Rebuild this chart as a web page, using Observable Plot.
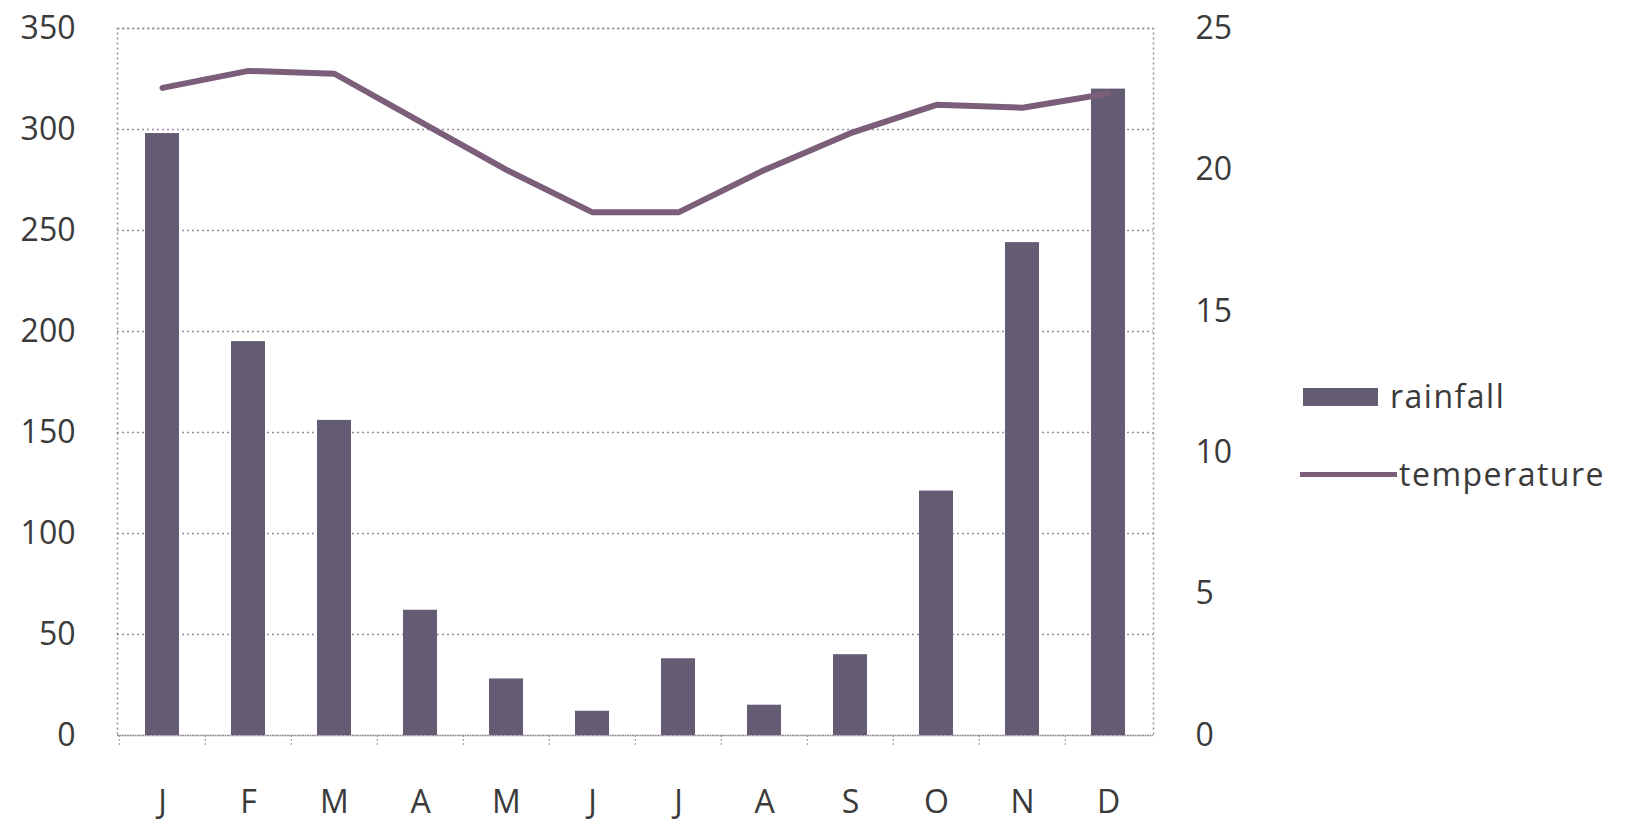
<!DOCTYPE html>
<html><head><meta charset="utf-8">
<script src="https://cdn.jsdelivr.net/npm/d3@7"></script>
<script src="https://cdn.jsdelivr.net/npm/@observablehq/plot@0.6"></script>
<style>
body{margin:0;background:#fff;}
#wrap{position:relative;width:1631px;height:822px;font-family:"Open Sans",sans-serif;color:#3a3a3a;}
.leg{position:absolute;font-size:32px;letter-spacing:1.5px;line-height:40px;white-space:nowrap;}
.sw{position:absolute;}
</style></head><body><div id="wrap"></div>
<script>
const months = ["Jan","Feb","Mar","Apr","May","Jun","Jul","Aug","Sep","Oct","Nov","Dec"];
const monthLabels = ["J","F","M","A","M","J","J","A","S","O","N","D"];
const rainfall = [298,195,156,62,28,12,38,15,40,121,244,320];
const temperature = [22.9,23.5,23.4,21.7,20.0,18.5,18.5,20.0,21.3,22.3,22.2,22.7];
const rainTicks = [0,50,100,150,200,250,300,350];
const tempTicks = [0,5,10,15,20,25];
const rainMax = 350, tempMax = 25;
const k = rainMax / tempMax;

const data = months.map((m, i) => ({month: m, rain: rainfall[i], temp: temperature[i] * k}));
const labelOf = Object.fromEntries(months.map((m, i) => [m, monthLabels[i]]));

const barColor = "#645c72";
const lineColor = "#7a5e7a";
const gridColor = "#9a8a9a";
const textColor = "#3a3a3a";

const chart = Plot.plot({
  width: 1631,
  height: 822,
  marginLeft: 117,
  marginRight: 478,
  marginTop: 28,
  marginBottom: 87,
  style: {fontFamily: "'Open Sans', sans-serif", fontSize: "32px", color: textColor, background: "#fff"},
  x: {domain: months, paddingInner: 0.6, paddingOuter: 0.3},
  y: {domain: [0, rainMax]},
  marks: [
    Plot.gridY(rainTicks, {stroke: gridColor, strokeOpacity: 1, strokeDasharray: "2,3", strokeWidth: 1.5}),
    Plot.frame({stroke: gridColor, strokeDasharray: "2,3", strokeWidth: 1.5}),
    Plot.barY(data, {x: "month", y: "rain", fill: barColor}),
    Plot.line(data, {x: "month", y: "temp", stroke: lineColor, strokeWidth: 6, strokeLinejoin: "round"}),
    Plot.axisY(rainTicks, {anchor: "left", tickSize: 0, tickPadding: 42, label: null, fill: textColor}),
    Plot.axisY(tempTicks.map(d => d * k), {anchor: "right", tickSize: 0, tickPadding: 42, label: null, tickFormat: d => String(Math.round(d / k)), fill: textColor}),
    Plot.axisX(months, {anchor: "bottom", tickSize: 10, tickFormat: () => "", dx: -43.2, stroke: gridColor, strokeDasharray: "2,2", label: null}),
    Plot.axisX(months, {anchor: "bottom", tickSize: 0, tickPadding: 55, tickFormat: d => labelOf[d], label: null, fill: textColor})
  ]
});

const wrap = document.getElementById("wrap");
wrap.appendChild(chart);

// legend
const legend = [
  {name: "rainfall", kind: "bar"},
  {name: "temperature", kind: "line"}
];
const legTop = [376, 454];
legend.forEach((item, i) => {
  const sw = document.createElement("div");
  sw.className = "sw";
  if (item.kind === "bar") {
    sw.style.cssText = `left:1303px;top:${legTop[i] + 12}px;width:75px;height:18px;background:${barColor};`;
  } else {
    sw.style.cssText = `left:1300px;top:${legTop[i] + 18}px;width:97px;height:5px;background:${lineColor};`;
  }
  wrap.appendChild(sw);
  const t = document.createElement("div");
  t.className = "leg";
  t.textContent = item.name;
  t.style.left = (item.kind === "bar" ? 1390 : 1399) + "px";
  t.style.top = legTop[i] + "px";
  wrap.appendChild(t);
});
</script>
</body></html>
